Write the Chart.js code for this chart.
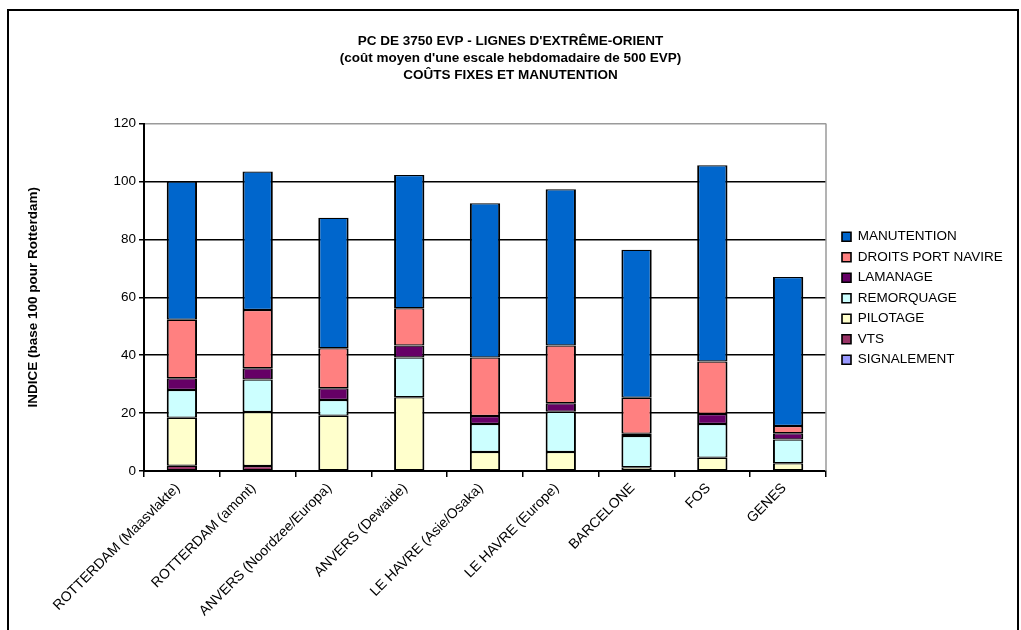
<!DOCTYPE html>
<html>
<head>
<meta charset="utf-8">
<script src="https://cdn.jsdelivr.net/npm/chart.js@4"></script>
<style>
    body { margin: 0; background: #fff; }
    #frame { position: absolute; left: 7px; top: 9px; width: 1008px; height: 640px; border: 2px solid #000; }
    #chart { position: absolute; left: 0; top: 0; }
</style>
</head>
<body>
<div id="frame"></div>
<canvas id="chart" width="1021" height="630"></canvas>
<script>
const ports = ['ROTTERDAM (Maasvlakte)', 'ROTTERDAM (amont)', 'ANVERS (Noordzee/Europa)', 'ANVERS (Dewaide)',
    'LE HAVRE (Asie/Osaka)', 'LE HAVRE (Europe)', 'BARCELONE', 'FOS', 'GENES'];

// valeurs (indice base 100 Rotterdam)
const signalement = [0, 0, 0, 0, 0, 0, 0, 0, 0];
const vts = [1.8, 1.7, 0, 0, 0, 0, 0, 0, 0];
const pilotage = [16.6, 18.7, 19.1, 25.5, 6.6, 6.6, 1.3, 4.6, 2.7];
const remorquage = [9.6, 11.2, 5.4, 13.7, 9.6, 13.9, 10.8, 11.6, 8.2];
const lamanage = [4.0, 3.9, 4.1, 4.1, 2.8, 2.9, 0.8, 3.5, 2.1];
const droitsPort = [20.2, 20.1, 13.8, 12.9, 20.2, 19.9, 12.4, 18.1, 2.5];
const manutention = [47.8, 47.8, 45.1, 46.0, 53.3, 54.0, 51.1, 67.8, 51.5];

const yTicks = [0, 20, 40, 60, 80, 100, 120];

const titleLines = ['PC DE 3750 EVP - LIGNES D\'EXTRÊME-ORIENT',
    '(coût moyen d\'une escale hebdomadaire de 500 EVP)',
    'COÛTS FIXES ET MANUTENTION'];

const FONT = 'Arial, "Liberation Sans", sans-serif';

function serie(label, data, color) {
    return {
        label: label,
        data: data,
        backgroundColor: color,
        borderColor: '#000',
        borderWidth: { top: 1.25, bottom: 1.25, left: 2, right: 2 },
        borderSkipped: false,
        barPercentage: 0.4,
        categoryPercentage: 1
    };
}

// largeur fixe de la légende + léger décalage vers la droite
const legendPlacement = {
    id: 'legendPlacement',
    beforeUpdate(chart) {
        const lg = chart.legend;
        if (lg && !lg._patched) {
            const fit = lg.fit;
            lg.fit = function () { fit.call(this); this.width = 195; };
            lg._patched = true;
        }
    },
    afterLayout(chart) {
        chart.legend.left += 9;
        chart.legend.right += 9;
        chart.legend.top += 1;
        chart.legend.bottom += 1;
    }
};

// bord gris à droite de la zone de tracé
const plotBorder = {
    id: 'plotBorder',
    beforeDatasetsDraw(chart) {
        const { ctx, chartArea: a } = chart;
        ctx.save();
        ctx.strokeStyle = '#9a9a9a';
        ctx.lineWidth = 1.5;
        ctx.beginPath();
        ctx.moveTo(a.right, a.top);
        ctx.lineTo(a.right, a.bottom);
        ctx.stroke();
        ctx.restore();
    }
};

new Chart(document.getElementById('chart'), {
    type: 'bar',
    data: {
        labels: ports,
        datasets: [
            serie('SIGNALEMENT', signalement, '#9999FF'),
            serie('VTS', vts, '#993366'),
            serie('PILOTAGE', pilotage, '#FFFFCC'),
            serie('REMORQUAGE', remorquage, '#CCFFFF'),
            serie('LAMANAGE', lamanage, '#660066'),
            serie('DROITS PORT NAVIRE', droitsPort, '#FF8080'),
            serie('MANUTENTION', manutention, '#0066CC')
        ]
    },
    options: {
        responsive: false,
        animation: false,
        layout: { padding: 0 },
        plugins: {
            tooltip: { enabled: false },
            title: {
                display: true,
                text: titleLines,
                color: '#000',
                font: { family: FONT, size: 13.5, weight: 'bold', lineHeight: 1.26 },
                padding: { top: 32.5, bottom: 40 }
            },
            legend: {
                position: 'right',
                fullSize: false,
                reverse: true,
                labels: {
                    boxWidth: 9,
                    boxHeight: 9,
                    padding: 7,
                    color: '#000',
                    font: { family: FONT, size: 13.5 }
                }
            }
        },
        scales: {
            x: {
                stacked: true,
                afterFit: s => { s.height = 159; },
                grid: { display: true, drawOnChartArea: false, offset: true, color: '#000', tickLength: 6, lineWidth: 1.5 },
                border: { display: true, color: '#000', width: 2 },
                ticks: { color: '#000', font: { family: FONT, size: 14 }, minRotation: 45, maxRotation: 45, padding: 3, labelOffset: -4 }
            },
            y: {
                stacked: true,
                min: 0,
                max: 120,
                afterFit: s => { s.width = 144; },
                afterBuildTicks: s => { s.ticks = yTicks.map(v => ({ value: v })); },
                grid: {
                    color: c => (c.tick && c.tick.value === 120 ? '#9a9a9a' : '#000'),
                    tickColor: '#000',
                    tickLength: 5,
                    lineWidth: 1.5
                },
                border: { display: true, color: '#000', width: 2 },
                ticks: { color: '#000', font: { family: FONT, size: 13.5 }, padding: 3 },
                title: {
                    display: true,
                    text: 'INDICE (base 100 pour Rotterdam)',
                    color: '#000',
                    font: { family: FONT, size: 13.5, weight: 'bold' },
                    padding: { top: 25, bottom: 0 }
                }
            }
        }
    },
    plugins: [legendPlacement, plotBorder]
});
</script>
</body>
</html>
